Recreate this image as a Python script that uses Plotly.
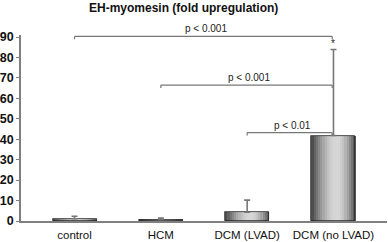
import plotly.graph_objects as go
import numpy as np

# ---- data ----
categories = ["control", "HCM", "DCM (LVAD)", "DCM (no LVAD)"]
means = [1.1, 0.7, 4.3, 41.8]
err_plus = [1.2, 0.8, 5.9, 42.1]
y_ticks = [0, 10, 20, 30, 40, 50, 60, 70, 80, 90]
bracket_from = [0, 1, 2]
bracket_to = [3, 3, 3]
bracket_level = [90.3, 66.5, 43.2]
bracket_label = ["p < 0.001", "p < 0.001", "p < 0.01"]
star_value = 87.0
title_text = "EH-myomesin (fold upregulation)"

FONT = "Arial, Liberation Sans, sans-serif"
xpos = list(range(len(categories)))
bar_w = 0.51
N = 20

fig = go.Figure()

# gradient strips (cylinder-like shading)
for i in range(N):
    t = (i + 0.5) / N
    peak = 0.58
    if t < peak:
        s = np.sin(np.pi / 2 * t / peak)
        lo = 70
    else:
        s = np.sin(np.pi / 2 * (1 - t) / (1 - peak))
        lo = 80
    v = int(lo + (215 - lo) * s)
    fig.add_trace(go.Bar(
        x=xpos, y=means, width=bar_w / N + 0.003,
        offset=-bar_w / 2 + i * bar_w / N,
        marker=dict(color=f"rgb({v},{v},{v})", line=dict(width=0)),
        showlegend=False, hoverinfo="skip"))

# outline + error bars
fig.add_trace(go.Bar(
    x=xpos, y=means, width=bar_w, offset=-bar_w / 2,
    marker=dict(color="rgba(0,0,0,0)", line=dict(color="#222", width=0.8)),
    error_y=dict(type="data", symmetric=False, array=err_plus,
                 arrayminus=[0] * len(means), color="#777777",
                 thickness=1.6, width=3),
    showlegend=False))

# significance brackets
shapes = []
annotations = []
for a, b, lev, lab in zip(bracket_from, bracket_to, bracket_level, bracket_label):
    xa, xb = a, b - 0.015
    shapes.append(dict(type="line", xref="x", yref="y", x0=xa, x1=xb, y0=lev, y1=lev,
                       line=dict(color="#777", width=1.2)))
    for xx in (xa, xb):
        shapes.append(dict(type="line", xref="x", yref="y", x0=xx, x1=xx, y0=lev, y1=lev - 1.4,
                           line=dict(color="#777", width=1.2)))
    annotations.append(dict(x=(xa + xb) / 2 + 0.03, y=lev, xref="x", yref="y",
                            text=lab, showarrow=False, yanchor="bottom", yshift=0,
                            font=dict(family=FONT, size=10, color="#222")))

annotations.append(dict(x=3, y=star_value, xref="x", yref="y", text="*", showarrow=False,
                        font=dict(family=FONT, size=10, color="#222"), yanchor="middle"))

annotations.append(dict(x=(183.5 - 21) / 366, y=(221.5 - 7.5) / 186.5, xref="paper", yref="paper",
                        text="<b>" + title_text + "</b>", showarrow=False,
                        xanchor="center", yanchor="middle",
                        font=dict(family=FONT, size=12, color="#111")))

fig.update_layout(
    width=388, height=242,
    margin=dict(l=21, r=1, t=35, b=20.5, autoexpand=False),
    paper_bgcolor="white", plot_bgcolor="white",
    barmode="overlay", bargap=0,
    shapes=shapes, annotations=annotations,
    showlegend=False,
)
fig.update_xaxes(
    range=[-0.62, 3.62], tickvals=xpos, ticktext=categories,
    showline=True, linecolor="#808080", linewidth=1.5, ticks="",
    showgrid=False, zeroline=False, automargin=False, ticklabelstandoff=2,
    tickfont=dict(family=FONT, size=11.5, color="#111"),
)
fig.update_yaxes(
    range=[0, 91], tickvals=y_ticks, ticktext=[f"<b>{v}</b>" for v in y_ticks],
    showline=True, linecolor="#808080", linewidth=1.5, ticks="outside", ticklen=3,
    tickcolor="#808080", showgrid=False, zeroline=False, automargin=False,
    tickfont=dict(family=FONT, size=12.5, color="#111"),
)

fig.write_html("out.html", config={"displayModeBar": False},
               post_script="document.body.style.margin='0';document.body.style.overflow='hidden';")
